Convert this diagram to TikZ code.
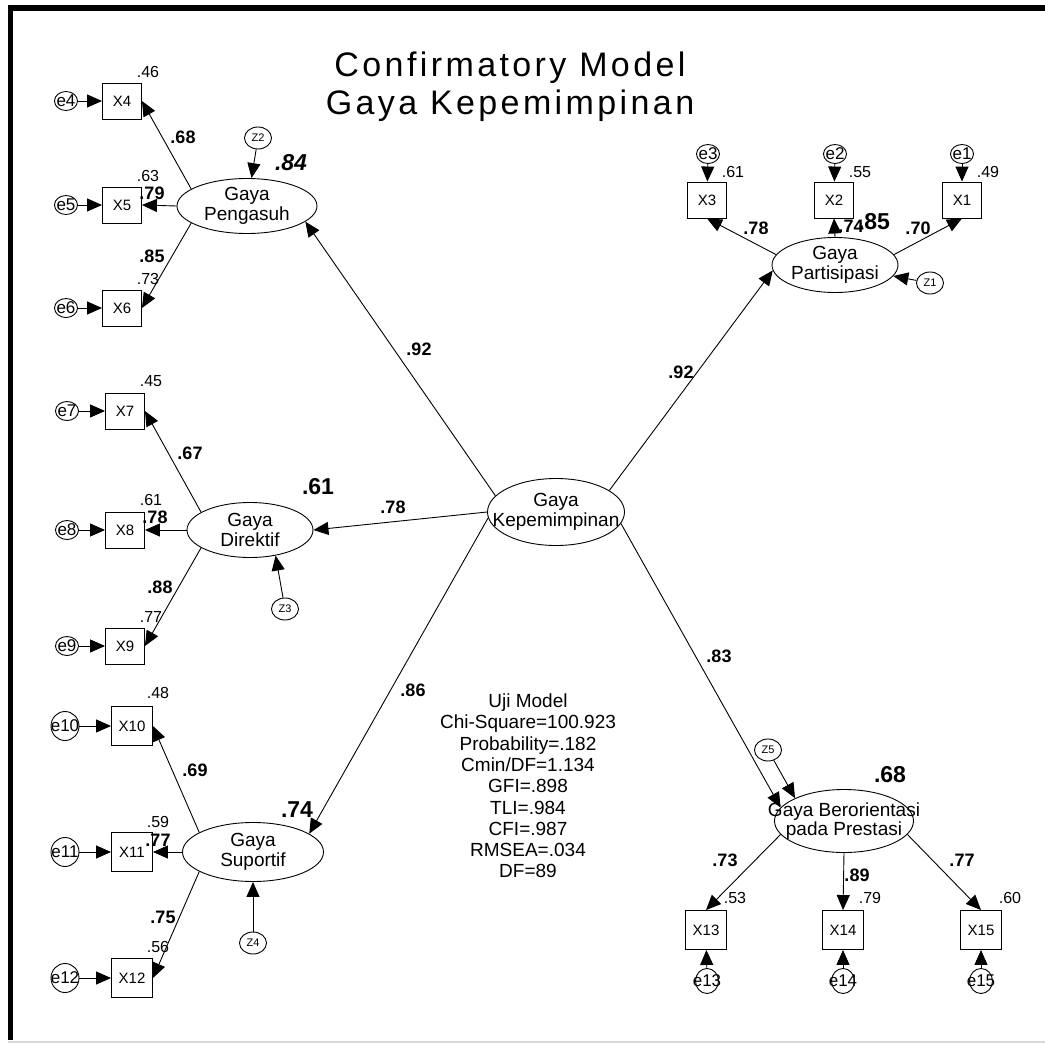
\documentclass[tikz,border=0pt]{standalone}
\usepackage{fontspec}
\setmainfont{Liberation Sans}
\newfontfamily\titlefont[LetterSpace=10]{Liberation Sans}
\usetikzlibrary{arrows.meta,shapes.geometric}

\begin{document}
\begin{tikzpicture}[x=1pt, y=-1pt,
    obs/.style={rectangle, draw, line width=0.9pt, minimum width=39pt, minimum height=36pt, inner sep=0pt, font=\fontsize{15}{17}\selectfont},
    obsb/.style={obs, minimum width=41pt, minimum height=39pt},
    latent/.style={ellipse, draw, line width=0.9pt, inner sep=0pt},
    lbl/.style={align=center, inner sep=0pt, font=\fontsize{19}{19.5}\selectfont},
    err/.style={ellipse, draw, line width=0.9pt, inner sep=0pt, minimum width=23pt, minimum height=19pt},
    errt/.style={inner sep=0pt, font=\fontsize{17}{18}\selectfont},
    dist/.style={ellipse, draw, line width=0.9pt, inner sep=0pt, minimum width=27pt, minimum height=22pt},
    distt/.style={inner sep=0pt, font=\fontsize{11}{12}\selectfont},
    path/.style={-{Triangle[length=15pt,width=13pt]}, line width=0.9pt},
    rsq/.style={inner sep=0pt, font=\fontsize{16}{18}\selectfont},
    load/.style={inner sep=0pt, font=\bfseries\fontsize{18}{20}\selectfont},
    big/.style={inner sep=0pt, font=\bfseries\fontsize{23}{25}\selectfont}
]
\useasboundingbox (0,0) rectangle (1045,1044);

% frame
\draw[line width=6pt] (8,8) -- (1045,8);
\draw[line width=5pt] (10.5,5) -- (10.5,1040);
\draw[black!15, line width=1.5pt] (8,1042) -- (1045,1042);

% title
\node[font=\titlefont\fontsize{34}{38}\selectfont, align=center] (title) at (510,87) {Confirmatory Model\\Gaya Kepemimpinan};

% latent variables
\node[latent, minimum width=137pt, minimum height=67pt, label={[lbl, name=gkt]center:Gaya\\Kepemimpinan}] (gk) at (556,512) {};
\node[latent, minimum width=140pt, minimum height=55pt, label={[lbl, name=gpt]center:Gaya\\Pengasuh}] (gp) at (247,206) {};
\node[latent, minimum width=126pt, minimum height=55pt, label={[lbl, name=gdt]center:Gaya\\Direktif}] (gd) at (250,530) {};
\node[latent, minimum width=141pt, minimum height=59pt, label={[lbl, name=gst]center:Gaya\\Suportif}] (gs) at (253,852) {};
\node[latent, minimum width=126pt, minimum height=55pt, label={[lbl, name=gpat]center:Gaya\\Partisipasi}] (gpa) at (835,265) {};
\node[latent, minimum width=139pt, minimum height=63pt, label={[lbl, name=gbt]center:Gaya Berorientasi\\pada Prestasi}] (gb) at (844,821) {};

% indicators
\node[obs] (x4) at (122,101) {X4};
\node[obs] (x5) at (122,205) {X5};
\node[obs] (x6) at (122,308) {X6};
\node[obs] (x7) at (125,411) {X7};
\node[obs] (x8) at (125,530) {X8};
\node[obs] (x9) at (125,646) {X9};
\node[obsb] (x10) at (132,726) {X10};
\node[obsb] (x11) at (132,852) {X11};
\node[obsb] (x12) at (132,978) {X12};
\node[obs] (x3) at (707,200) {X3};
\node[obs] (x2) at (834,200) {X2};
\node[obs] (x1) at (962,200) {X1};
\node[obsb] (x13) at (706,930) {X13};
\node[obsb] (x14) at (843,930) {X14};
\node[obsb] (x15) at (981,930) {X15};

% error terms
\node[err, label={[errt, name=e4t]center:e4}] (e4) at (66,101) {};
\node[err, label={[errt, name=e5t]center:e5}] (e5) at (66,205) {};
\node[err, label={[errt, name=e6t]center:e6}] (e6) at (66,308) {};
\node[err, label={[errt, name=e7t]center:e7}] (e7) at (67,411) {};
\node[err, label={[errt, name=e8t]center:e8}] (e8) at (67,530) {};
\node[err, label={[errt, name=e9t]center:e9}] (e9) at (67,646) {};
\node[err, minimum width=28pt, minimum height=29pt, label={[errt, name=e10t]center:e10}] (e10) at (65,726) {};
\node[err, minimum width=28pt, minimum height=29pt, label={[errt, name=e11t]center:e11}] (e11) at (65,852) {};
\node[err, minimum width=28pt, minimum height=29pt, label={[errt, name=e12t]center:e12}] (e12) at (65,978) {};
\node[err, label={[errt, name=e3t]center:e3}] (e3) at (708,154) {};
\node[err, label={[errt, name=e2t]center:e2}] (e2) at (835,154) {};
\node[err, label={[errt, name=e1t]center:e1}] (e1) at (962,154) {};
\node[err, minimum height=25pt, label={[errt, name=e13t]center:e13}] (e13) at (707,981) {};
\node[err, minimum height=25pt, label={[errt, name=e14t]center:e14}] (e14) at (843,981) {};
\node[err, minimum height=25pt, label={[errt, name=e15t]center:e15}] (e15) at (981,981) {};

% disturbances
\node[dist, label={[distt, name=z1t]center:Z1}] (z1) at (930,283) {};
\node[dist, label={[distt, name=z2t]center:Z2}] (z2) at (258,138) {};
\node[dist, label={[distt, name=z3t]center:Z3}] (z3) at (285,609) {};
\node[dist, label={[distt, name=z4t]center:Z4}] (z4) at (253,943) {};
\node[dist, label={[distt, name=z5t]center:Z5}] (z5) at (768,750) {};

% structural paths
\draw[path] (gk.165) -- (gp.-15);
\draw[path] (gk.22) -- (gpa.185);
\draw[path] (gk.west) -- (gd.east);
\draw[path] (gk.185) -- (gs.18);
\draw[path] (gk.-10) -- (gb.168);

% loadings
\draw[path] (gp.163) -- (x4.east);
\draw[path] (gp.west) -- (x5.east);
\draw[path] (gp.197) -- (x6.east);
\draw[path] (gd.160) -- (x7.east);
\draw[path] (gd.west) -- (x8.east);
\draw[path] (gd.200) -- (x9.east);
\draw[path] (gs.160) -- (x10.east);
\draw[path] (gs.west) -- (x11.east);
\draw[path] (gs.200) -- (x12.east);
\draw[path] (gpa.170) -- (x3.south);
\draw[path] (gpa.north) -- (x2.south);
\draw[path] (gpa.10) -- (x1.south);
\draw[path] (gb.192) -- (x13.north);
\draw[path] (gb.south) -- (x14.north);
\draw[path] (gb.-12) -- (x15.north);

% errors into indicators
\draw[path] (e4) -- (x4);
\draw[path] (e5) -- (x5);
\draw[path] (e6) -- (x6);
\draw[path] (e7) -- (x7);
\draw[path] (e8) -- (x8);
\draw[path] (e9) -- (x9);
\draw[path] (e10) -- (x10);
\draw[path] (e11) -- (x11);
\draw[path] (e12) -- (x12);
\draw[path] (e3) -- (x3);
\draw[path] (e2) -- (x2);
\draw[path] (e1) -- (x1);
\draw[path] (e13) -- (x13);
\draw[path] (e14) -- (x14);
\draw[path] (e15) -- (x15);

% disturbances into factors
\draw[path] (z1) -- (gpa);
\draw[path] (z2) -- (gp);
\draw[path] (z3) -- (gd.-45);
\draw[path] (z4) -- (gs);
\draw[path] (z5) -- (gb.155);

% squared multiple correlations
\node[rsq] (r4) at (148,72) {.46};
\node[rsq] (r5) at (148,176) {.63};
\node[rsq] (r6) at (148,279) {.73};
\node[rsq] (r7) at (151,381) {.45};
\node[rsq] (r8) at (151,500) {.61};
\node[rsq] (r9) at (151,617) {.77};
\node[rsq] (r10) at (158,693) {.48};
\node[rsq] (r11) at (158,822) {.59};
\node[rsq] (r12) at (158,947) {.56};
\node[rsq] (r3) at (733,172) {.61};
\node[rsq] (r2) at (860,172) {.55};
\node[rsq] (r1) at (988,172) {.49};
\node[rsq] (r13) at (735,898) {.53};
\node[rsq] (r14) at (870,898) {.79};
\node[rsq] (r15) at (1010,898) {.60};

% loading values
\node[load] (l4) at (183,137) {.68};
\node[load] (l5) at (152,193) {.79};
\node[load] (l6) at (152,256) {.85};
\node[load] (l7) at (190,453) {.67};
\node[load] (l8) at (155,517) {.78};
\node[load] (l9) at (160,587) {.88};
\node[load] (l10) at (195,770) {.69};
\node[load] (l11) at (158,840) {.77};
\node[load] (l12) at (163,917) {.75};
\node[load] (l3) at (756,228) {.78};
\node[load] (l2) at (851,226) {.74};
\node[load] (l1) at (918,228) {.70};
\node[load] (l13) at (725,860) {.73};
\node[load] (l14) at (857,875) {.89};
\node[load] (l15) at (962,860) {.77};

% structural weights
\node[load] (sp) at (419,349) {.92};
\node[load] (spa) at (681,372) {.92};
\node[load] (sd) at (393,507) {.78};
\node[load] (ss) at (413,690) {.86};
\node[load] (sb) at (719,656) {.83};

% factor R2
\node[big, font=\bfseries\itshape\fontsize{23}{25}\selectfont] (rp) at (291,163) {.84};
\node[big] (rpa) at (874,222) {.85};
\node[big] (rd) at (318,487) {.61};
\node[big] (rs) at (297,810) {.74};
\node[big] (rb) at (890,775) {.68};

% fit indices
\node[align=center, font=\fontsize{19}{21.3}\selectfont] (fit) at (528,786) {Uji Model\\Chi-Square=100.923\\Probability=.182\\Cmin/DF=1.134\\GFI=.898\\TLI=.984\\CFI=.987\\RMSEA=.034\\DF=89};

\end{tikzpicture}
\end{document}
